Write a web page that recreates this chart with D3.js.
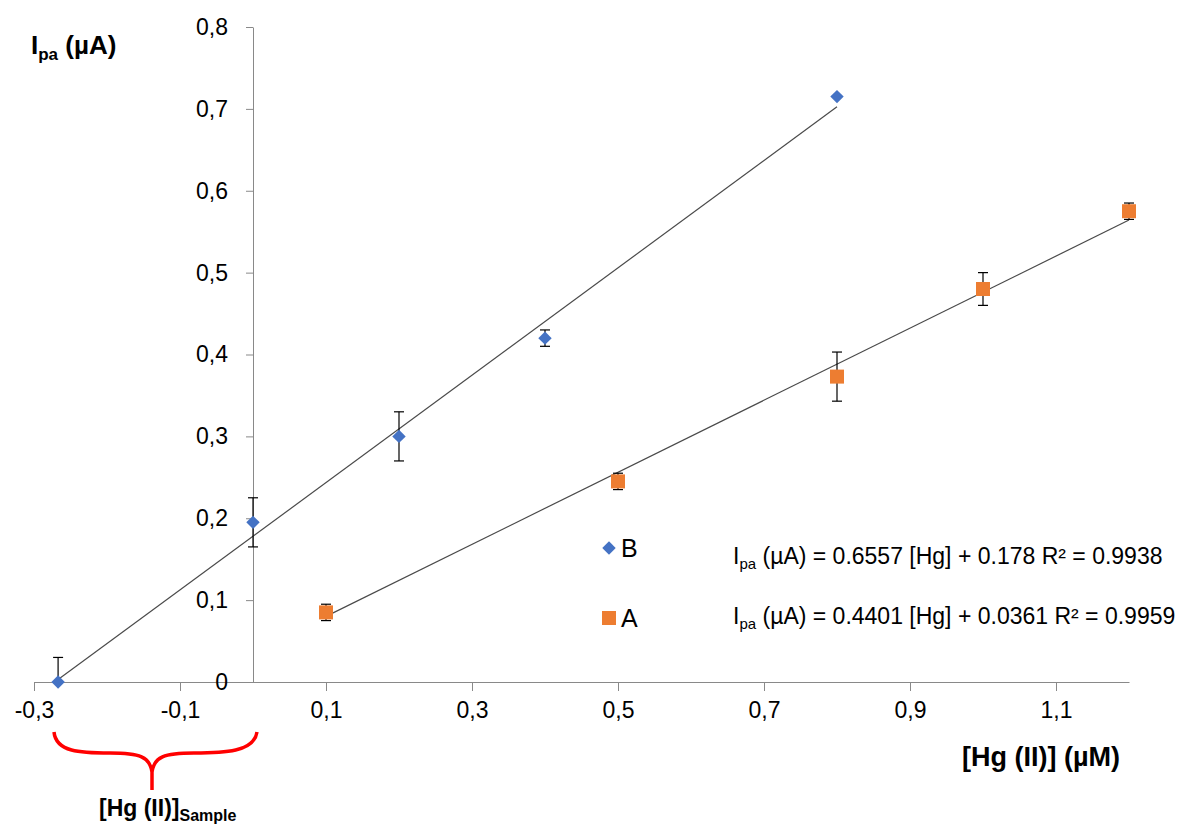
<!DOCTYPE html>
<html>
<head>
<meta charset="utf-8">
<script src="https://cdn.jsdelivr.net/npm/d3@7"></script>
<style>
  body { margin: 0; background: #fff; }
  svg { display: block; font-family: "Liberation Sans", Arial, sans-serif; }
</style>
</head>
<body>
<svg id="chart" width="1192" height="832"></svg>
<script>
// Serie B (Standardaddition, Raute)
const xB = [-0.267, 0, 0.2, 0.4, 0.8];
const yB = [0, 0.195, 0.30, 0.42, 0.715];
const errB = [0.03, 0.03, 0.03, 0.01, 0];
// Serie A (Kalibrierung, Quadrat)
const xA = [0.1, 0.5, 0.8, 1.0, 1.2];
const yA = [0.085, 0.245, 0.373, 0.48, 0.575];
const errA = [0.01, 0.01, 0.03, 0.02, 0.01];
// Trendlinien: Steigung, Achsenabschnitt
const fitB = [0.6557, 0.178];
const fitA = [0.4401, 0.0361];
const xTicks = [-0.3, -0.1, 0.1, 0.3, 0.5, 0.7, 0.9, 1.1];
const yTicks = [0, 0.1, 0.2, 0.3, 0.4, 0.5, 0.6, 0.7, 0.8];

const svg = d3.select("#chart");
const x = d3.scaleLinear().domain([-0.3, 1.2]).range([34, 1129]);
const y = d3.scaleLinear().domain([0, 0.8]).range([682, 27]);

const loc = d3.formatLocale({ decimal: ",", thousands: ".", grouping: [3], currency: ["", ""], minus: "-" });
const fmt = v => v === 0 ? "0" : loc.format(".1f")(v);

const axisColor = "#898989";

// x-Achse bei y = 0
const gx = svg.append("g")
    .attr("transform", `translate(0,${y(0)})`)
    .call(d3.axisBottom(x).tickValues(xTicks).tickSize(9).tickSizeOuter(0).tickPadding(11).tickFormat(fmt));
gx.select(".domain").attr("stroke", axisColor);
gx.selectAll(".tick line").attr("stroke", axisColor);
gx.selectAll(".tick text").attr("font-size", 23).attr("fill", "#000")
    .attr("font-family", "Liberation Sans, Arial, sans-serif");

// y-Achse bei x = 0
const gy = svg.append("g")
    .attr("transform", `translate(${x(0)},0)`)
    .call(d3.axisLeft(y).tickValues(yTicks).tickSize(7).tickSizeOuter(0).tickPadding(18).tickFormat(fmt));
gy.select(".domain").attr("stroke", axisColor);
gy.selectAll(".tick line").attr("stroke", axisColor);
gy.selectAll(".tick text").attr("font-size", 23).attr("fill", "#000")
    .attr("font-family", "Liberation Sans, Arial, sans-serif");

// Trendlinien
function trend(xs, fit) {
  const x0 = d3.min(xs), x1 = d3.max(xs);
  svg.append("line")
      .attr("x1", x(x0)).attr("y1", y(fit[0] * x0 + fit[1]))
      .attr("x2", x(x1)).attr("y2", y(fit[0] * x1 + fit[1]))
      .attr("stroke", "#4a4a4a").attr("stroke-width", 1.2);
}
trend(xB, fitB);
trend(xA, fitA);

// Fehlerbalken
function errorBars(xs, ys, es) {
  xs.forEach((xv, i) => {
    if (!es[i]) return;
    const top = ys[i] + es[i], bot = Math.max(0, ys[i] - es[i]);
    const g = svg.append("g").attr("stroke", "#000").attr("stroke-width", 1.2);
    g.append("line").attr("x1", x(xv)).attr("x2", x(xv)).attr("y1", y(top)).attr("y2", y(bot));
    g.append("line").attr("x1", x(xv) - 5).attr("x2", x(xv) + 5).attr("y1", y(top)).attr("y2", y(top));
    if (bot > 0)
      g.append("line").attr("x1", x(xv) - 5).attr("x2", x(xv) + 5).attr("y1", y(bot)).attr("y2", y(bot));
  });
}
errorBars(xB, yB, errB);
errorBars(xA, yA, errA);

const blue = "#4472c4", orange = "#ed7d31";
const diamond = d3.symbol().type(d3.symbolDiamond2).size(115);
svg.selectAll(".ptB").data(xB).join("path")
    .attr("d", diamond)
    .attr("transform", (d, i) => `translate(${x(d)},${y(yB[i])})`)
    .attr("fill", blue);
svg.selectAll(".ptA").data(xA).join("rect")
    .attr("x", d => x(d) - 7).attr("y", (d, i) => y(yA[i]) - 7)
    .attr("width", 14).attr("height", 14)
    .attr("fill", orange);

// Legende
svg.append("path").attr("d", diamond).attr("transform", "translate(609,548)").attr("fill", blue);
svg.append("text").attr("x", 621).attr("y", 557).attr("font-size", 25).text("B");
svg.append("rect").attr("x", 602).attr("y", 611).attr("width", 14).attr("height", 14).attr("fill", orange);
svg.append("text").attr("x", 621).attr("y", 627).attr("font-size", 25).text("A");

function equation(yy, fit, r2) {
  const t = svg.append("text").attr("x", 733).attr("y", yy).attr("font-size", 23);
  t.append("tspan").text("I");
  t.append("tspan").attr("font-size", 15).attr("dy", 5).text("pa");
  t.append("tspan").attr("dy", -5).text(` (µA) = ${fit[0]} [Hg] + ${fit[1]} R² = ${r2}`);
}
equation(564, fitB, "0.9938");
equation(624, fitA, "0.9959");

// Achsentitel
const yt = svg.append("text").attr("x", 31).attr("y", 54).attr("font-size", 26).attr("font-weight", "bold");
yt.append("tspan").text("I");
yt.append("tspan").attr("font-size", 17).attr("dy", 6).text("pa");
yt.append("tspan").attr("dy", -6).text(" (µA)");

svg.append("text").attr("x", 962).attr("y", 766).attr("font-size", 27).attr("font-weight", "bold")
    .text("[Hg (II)] (µM)");

// Klammer für Probenkonzentration
svg.append("path")
    .attr("d", "M54,732 C56,752 80,753 110,753 C140,753 150,757 152,772 L152,790 M152,772 C154,757 164,753 194,753 C224,753 254,752 257,732")
    .attr("fill", "none").attr("stroke", "#ff0000").attr("stroke-width", 3.5);

const st = svg.append("text").attr("x", 99).attr("y", 816).attr("font-size", 23).attr("font-weight", "bold");
st.append("tspan").text("[Hg (II)]");
st.append("tspan").attr("font-size", 16).attr("dy", 5).text("Sample");
</script>
</body>
</html>
